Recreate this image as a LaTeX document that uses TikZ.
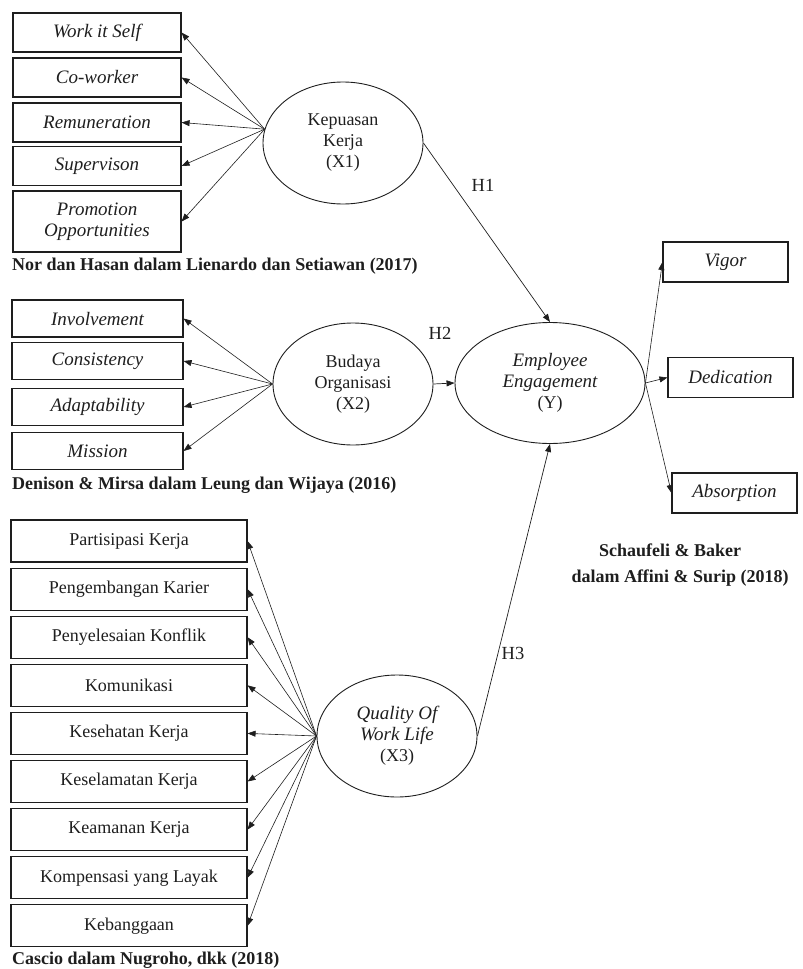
\documentclass[tikz,border=0pt]{standalone}
\usepackage{fontspec}
\setmainfont{Liberation Serif}
\usepackage{tikz}
\usetikzlibrary{arrows.meta,shapes.geometric}
\definecolor{ink}{RGB}{30,30,30}
\newcommand{\BoxFont}{\fontsize{18}{21}\selectfont}
\newcommand{\ItFont}{\fontsize{19}{21}\selectfont\itshape}
\tikzset{
  indBox/.style={draw=ink, rectangle, line width=1.1pt, inner sep=0pt, text=ink, font=\BoxFont},
  indTop/.style={indBox, minimum width=168pt, minimum height=39pt, font=\ItFont},   % indicators of X1
  indMid/.style={indBox, minimum width=171pt, minimum height=37pt, font=\ItFont},   % indicators of X2
  indLow/.style={indBox, minimum width=236pt, minimum height=42pt},                 % indicators of X3
  indRight/.style={indBox, minimum width=125pt, minimum height=40pt, font=\ItFont}, % indicators of Y
  latent/.style={ellipse, draw=ink, line width=0.9pt, minimum width=160pt, minimum height=122pt,
    inner sep=0pt, align=center, text=ink, font=\fontsize{18}{21}\selectfont},
  loadArrow/.style={-{Triangle[length=8pt,width=6pt]}, draw=ink, line width=0.6pt},
  pathArrow/.style={-{Triangle[length=8pt,width=6pt]}, draw=ink, line width=0.7pt},
  hypText/.style={text=ink, font=\fontsize{18.5}{21}\selectfont, inner sep=0pt},
  srcText/.style={text=ink, font=\fontsize{18}{21}\selectfont\bfseries, inner sep=0pt}
}

\begin{document}
\begin{tikzpicture}[x=1pt, y=-1pt]
  \useasboundingbox (0,0) rectangle (803,969);
  % latent variables
  \node[latent] (X1) at (343,143) {Kepuasan\\Kerja\\(X1)};
  \node[latent] (X2) at (353,384) {Budaya\\Organisasi\\(X2)};
  \node[latent] (X3) at (397,736) {{\ItFont Quality Of}\\{\ItFont Work Life}\\(X3)};
  \node[latent, minimum width=190pt, minimum height=121pt] (Y) at (550,383) {{\ItFont Employee}\\{\ItFont Engagement}\\(Y)};
  % indicators of X1
  \foreach \n/\yy/\t in {ws/32.5/Work it Self, cw/77.5/Co-worker, rem/122.5/Remuneration, sup/166/Supervison}{
    \node[indTop] (\n) at (97,\yy) {\t};
    \draw[loadArrow] (X1.170) -- (\n.east);
  }
  \node[indTop, minimum height=61pt, align=center] (prom) at (97,221.5) {Promotion\\Opportunities};
  \draw[loadArrow] (X1.170) -- (prom.east);
  \node[srcText, anchor=west] (srcX1) at (12,266) {Nor dan Hasan dalam Lienardo dan Setiawan (2017)};
  % indicators of X2
  \foreach \n/\yy/\t in {inv/318.5/Involvement, con/361/Consistency, ada/407/Adaptability, mis/451/Mission}{
    \node[indMid] (\n) at (97.5,\yy) {\t};
    \draw[loadArrow] (X2.west) -- (\n.east);
  }
  \node[srcText, anchor=west] (srcX2) at (12,485) {Denison \& Mirsa dalam Leung dan Wijaya (2016)};
  % indicators of X3
  \foreach \t [count=\i from 0] in {Partisipasi Kerja, Pengembangan Karier, Penyelesaian Konflik, Komunikasi,
      Kesehatan Kerja, Keselamatan Kerja, Keamanan Kerja, Kompensasi yang Layak, Kebanggaan}{
    \node[indLow] (q\i) at (129,{541+48.1*\i}) {\t};
    \draw[loadArrow] (X3.west) -- (q\i.east);
  }
  \node[srcText, anchor=west] (srcX3) at (12,960) {Cascio dalam Nugroho, dkk (2018)};
  % indicators of Y
  \node[indRight] (vig) at (725.5,262) {Vigor};
  \node[indRight] (ded) at (730.5,377.5) {Dedication};
  \node[indRight] (abs) at (734.5,493) {Absorption};
  \foreach \n in {vig,ded,abs}
    \draw[loadArrow] (Y.east) -- (\n.west);
  \node[srcText] (srcY1) at (670,550) {Schaufeli \& Baker};
  \node[srcText] (srcY2) at (680,578) {dalam Affini \& Surip (2018)};
  % hypotheses
  \draw[pathArrow] (X1.east) -- (Y.north);
  \draw[pathArrow] (X2.east) -- (Y.west);
  \draw[pathArrow] (X3.east) -- (Y.south);
  \node[hypText] (h1) at (483,185) {H1};
  \node[hypText] (h2) at (440,333) {H2};
  \node[hypText] (h3) at (513,653) {H3};
\end{tikzpicture}
\end{document}
